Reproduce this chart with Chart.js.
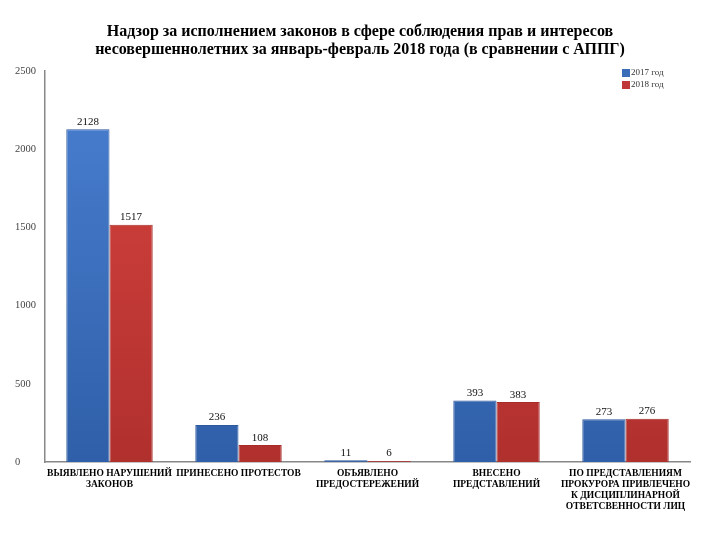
<!DOCTYPE html>
<html>
<head>
<meta charset="utf-8">
<script src="https://cdn.jsdelivr.net/npm/chart.js@4.4.0/dist/chart.umd.min.js"></script>
<style>
  html, body { margin: 0; padding: 0; background: #fff; }
  #wrap { width: 720px; height: 540px; }
</style>
</head>
<body>
<div id="wrap"><canvas id="chart" width="720" height="540"></canvas></div>
<script>
// Категории и значения
const categories = [
    ['ВЫЯВЛЕНО НАРУШЕНИЙ', 'ЗАКОНОВ'],
    'ПРИНЕСЕНО ПРОТЕСТОВ',
    ['ОБЪЯВЛЕНО', 'ПРЕДОСТЕРЕЖЕНИЙ'],
    ['ВНЕСЕНО', 'ПРЕДСТАВЛЕНИЙ'],
    ['ПО ПРЕДСТАВЛЕНИЯМ', 'ПРОКУРОРА ПРИВЛЕЧЕНО', 'К ДИСЦИПЛИНАРНОЙ', 'ОТВЕТСВЕННОСТИ ЛИЦ']
];
const values2017 = [2128, 236, 11, 393, 273];
const values2018 = [1517, 108, 6, 383, 276];
const seriesNames = ['2017 год', '2018 год'];
const yTicks = [0, 500, 1000, 1500, 2000, 2500];

const serif = '"Liberation Serif", "DejaVu Serif", serif';

// Градиент по высоте области графика
function barGradient(ctx, light, dark) {
    const chart = ctx.chart;
    const area = chart.chartArea;
    if (!area) return dark;
    const g = chart.ctx.createLinearGradient(0, area.top, 0, area.bottom);
    g.addColorStop(0, light);
    g.addColorStop(1, dark);
    return g;
}

// Подписи значений над столбцами
const valueLabels = {
    id: 'valueLabels',
    afterDatasetsDraw(chart) {
        const ctx = chart.ctx;
        ctx.save();
        ctx.font = '11px ' + serif;
        ctx.fillStyle = '#111';
        ctx.textAlign = 'center';
        ctx.textBaseline = 'bottom';
        chart.data.datasets.forEach((ds, i) => {
            chart.getDatasetMeta(i).data.forEach((bar, j) => {
                ctx.fillText(ds.data[j], bar.x, bar.y - 2);
            });
        });
        ctx.restore();
    }
};

// Легенда в правом верхнем углу
const cornerLegend = {
    id: 'cornerLegend',
    afterDraw(chart) {
        const ctx = chart.ctx;
        ctx.save();
        ctx.font = '9px ' + serif;
        ctx.textBaseline = 'middle';
        chart.data.datasets.forEach((ds, i) => {
            const y = 73 + i * 12;
            ctx.fillStyle = ds.legendColor;
            ctx.fillRect(622, y - 4, 8, 8);
            ctx.fillStyle = '#333';
            ctx.fillText(ds.label, 631, y);
        });
        ctx.restore();
    }
};

new Chart(document.getElementById('chart').getContext('2d'), {
    type: 'bar',
    data: {
        labels: categories,
        datasets: [
            {
                label: seriesNames[0],
                data: values2017,
                legendColor: '#3A6DB8',
                backgroundColor: (c) => barGradient(c, '#4A80D2', '#2F5FA8'),
                borderColor: '#2D5A9E',
                borderWidth: 1
            },
            {
                label: seriesNames[1],
                data: values2018,
                legendColor: '#C0393A',
                backgroundColor: (c) => barGradient(c, '#D8443F', '#B0302E'),
                borderColor: '#A62C2A',
                borderWidth: 1
            }
        ]
    },
    options: {
        responsive: false,
        animation: false,
        datasets: {
            bar: { categoryPercentage: 0.67, barPercentage: 1.0 }
        },
        layout: { padding: { left: 15, right: 15, top: 0, bottom: 0 } },
        plugins: {
            legend: { display: false },
            tooltip: { enabled: false },
            title: {
                display: true,
                text: [
                    'Надзор за исполнением законов в сфере соблюдения прав и интересов',
                    'несовершеннолетних за январь-февраль 2018 года (в сравнении с АППГ)'
                ],
                color: '#000',
                font: { family: serif, size: 16, weight: 'bold', lineHeight: 1.13 },
                padding: { top: 23, bottom: 12 }
            }
        },
        scales: {
            x: {
                grid: { display: false },
                border: { display: true, color: '#888', width: 1.5 },
                ticks: {
                    color: '#000',
                    font: { family: serif, size: 9.5, weight: 'bold', lineHeight: 1.15 },
                    maxRotation: 0,
                    autoSkip: false,
                    padding: -2
                },
                afterFit(scale) { scale.height = 78; }
            },
            y: {
                min: 0,
                max: yTicks[yTicks.length - 1],
                grid: { display: false },
                border: { display: true, color: '#888', width: 1.5 },
                afterBuildTicks(scale) { scale.ticks = yTicks.map(v => ({ value: v })); },
                ticks: {
                    color: '#444',
                    font: { family: serif, size: 10.5 },
                    crossAlign: 'far',
                    padding: 4,
                    callback: (v) => String(v)
                },
                afterFit(scale) { scale.width = 30; }
            },
            // пустая правая ось, чтобы заголовок оставался по центру
            yRight: {
                position: 'right',
                grid: { display: false },
                border: { display: false },
                ticks: { display: false },
                afterFit(scale) { scale.width = 15; }
            }
        }
    },
    plugins: [valueLabels, cornerLegend]
});
</script>
</body>
</html>
